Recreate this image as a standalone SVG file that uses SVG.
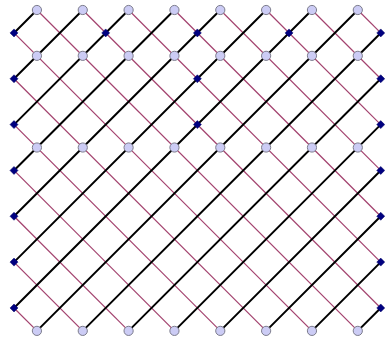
<svg xmlns="http://www.w3.org/2000/svg" xmlns:xlink="http://www.w3.org/1999/xlink" width="385" height="338" viewBox="0 0 385 338">
<style>
.bk{stroke:#000;stroke-width:2;stroke-linecap:round;fill:none}
.mr{stroke:#a3426e;stroke-width:1.2;fill:none}
.c{fill:#ccccf5;stroke:#7c7c8c;stroke-width:1}
.d{fill:#000080;stroke:#000060;stroke-width:0.5}
</style>
<defs>
<circle id="cir" class="c" r="4.6"/>
<polygon id="dia" class="d" points="0,-4 4,0 0,4 -4,0"/>
</defs>
<rect width="385" height="338" fill="#fff"/>
<g id="connectors">
<g id="maroon">
<line class="mr" x1="14" y1="307.96" x2="36.92" y2="330.88"/>
<line class="mr" x1="14" y1="262.12" x2="82.76" y2="330.88"/>
<line class="mr" x1="14" y1="216.28" x2="128.6" y2="330.88"/>
<line class="mr" x1="14" y1="170.44" x2="174.44" y2="330.88"/>
<line class="mr" x1="14" y1="124.6" x2="220.28" y2="330.88"/>
<line class="mr" x1="14" y1="78.76" x2="266.12" y2="330.88"/>
<line class="mr" x1="14" y1="32.92" x2="311.96" y2="330.88"/>
<line class="mr" x1="36.92" y1="10" x2="357.8" y2="330.88"/>
<line class="mr" x1="82.76" y1="10" x2="380.72" y2="307.96"/>
<line class="mr" x1="128.6" y1="10" x2="380.72" y2="262.12"/>
<line class="mr" x1="174.44" y1="10" x2="380.72" y2="216.28"/>
<line class="mr" x1="220.28" y1="10" x2="380.72" y2="170.44"/>
<line class="mr" x1="266.12" y1="10" x2="380.72" y2="124.6"/>
<line class="mr" x1="311.96" y1="10" x2="380.72" y2="78.76"/>
<line class="mr" x1="357.8" y1="10" x2="380.72" y2="32.92"/>
</g>
<g id="black">
<line class="bk" x1="14" y1="32.92" x2="36.92" y2="10"/>
<line class="bk" x1="14" y1="78.76" x2="82.76" y2="10"/>
<line class="bk" x1="14" y1="124.6" x2="128.6" y2="10"/>
<line class="bk" x1="14" y1="170.44" x2="174.44" y2="10"/>
<line class="bk" x1="14" y1="216.28" x2="220.28" y2="10"/>
<line class="bk" x1="14" y1="262.12" x2="266.12" y2="10"/>
<line class="bk" x1="14" y1="307.96" x2="311.96" y2="10"/>
<line class="bk" x1="36.92" y1="330.88" x2="357.8" y2="10"/>
<line class="bk" x1="82.76" y1="330.88" x2="380.72" y2="32.92"/>
<line class="bk" x1="128.6" y1="330.88" x2="380.72" y2="78.76"/>
<line class="bk" x1="174.44" y1="330.88" x2="380.72" y2="124.6"/>
<line class="bk" x1="220.28" y1="330.88" x2="380.72" y2="170.44"/>
<line class="bk" x1="266.12" y1="330.88" x2="380.72" y2="216.28"/>
<line class="bk" x1="311.96" y1="330.88" x2="380.72" y2="262.12"/>
<line class="bk" x1="357.8" y1="330.88" x2="380.72" y2="307.96"/>
</g>
</g>
<g id="nodes">
<g id="c1-0"><use xlink:href="#cir" x="36.92" y="10"/></g>
<g id="c3-0"><use xlink:href="#cir" x="82.76" y="10"/></g>
<g id="c5-0"><use xlink:href="#cir" x="128.6" y="10"/></g>
<g id="c7-0"><use xlink:href="#cir" x="174.44" y="10"/></g>
<g id="c9-0"><use xlink:href="#cir" x="220.28" y="10"/></g>
<g id="c11-0"><use xlink:href="#cir" x="266.12" y="10"/></g>
<g id="c13-0"><use xlink:href="#cir" x="311.96" y="10"/></g>
<g id="c15-0"><use xlink:href="#cir" x="357.8" y="10"/></g>
<g id="c1-2"><use xlink:href="#cir" x="36.92" y="55.84"/></g>
<g id="c3-2"><use xlink:href="#cir" x="82.76" y="55.84"/></g>
<g id="c5-2"><use xlink:href="#cir" x="128.6" y="55.84"/></g>
<g id="c7-2"><use xlink:href="#cir" x="174.44" y="55.84"/></g>
<g id="c9-2"><use xlink:href="#cir" x="220.28" y="55.84"/></g>
<g id="c11-2"><use xlink:href="#cir" x="266.12" y="55.84"/></g>
<g id="c13-2"><use xlink:href="#cir" x="311.96" y="55.84"/></g>
<g id="c15-2"><use xlink:href="#cir" x="357.8" y="55.84"/></g>
<g id="c1-6"><use xlink:href="#cir" x="36.92" y="147.52"/></g>
<g id="c3-6"><use xlink:href="#cir" x="82.76" y="147.52"/></g>
<g id="c5-6"><use xlink:href="#cir" x="128.6" y="147.52"/></g>
<g id="c7-6"><use xlink:href="#cir" x="174.44" y="147.52"/></g>
<g id="c9-6"><use xlink:href="#cir" x="220.28" y="147.52"/></g>
<g id="c11-6"><use xlink:href="#cir" x="266.12" y="147.52"/></g>
<g id="c13-6"><use xlink:href="#cir" x="311.96" y="147.52"/></g>
<g id="c15-6"><use xlink:href="#cir" x="357.8" y="147.52"/></g>
<g id="c1-14"><use xlink:href="#cir" x="36.92" y="330.88"/></g>
<g id="c3-14"><use xlink:href="#cir" x="82.76" y="330.88"/></g>
<g id="c5-14"><use xlink:href="#cir" x="128.6" y="330.88"/></g>
<g id="c7-14"><use xlink:href="#cir" x="174.44" y="330.88"/></g>
<g id="c9-14"><use xlink:href="#cir" x="220.28" y="330.88"/></g>
<g id="c11-14"><use xlink:href="#cir" x="266.12" y="330.88"/></g>
<g id="c13-14"><use xlink:href="#cir" x="311.96" y="330.88"/></g>
<g id="c15-14"><use xlink:href="#cir" x="357.8" y="330.88"/></g>
<g id="dL1"><use xlink:href="#dia" x="14" y="32.92"/></g>
<g id="dL3"><use xlink:href="#dia" x="14" y="78.76"/></g>
<g id="dL5"><use xlink:href="#dia" x="14" y="124.6"/></g>
<g id="dL7"><use xlink:href="#dia" x="14" y="170.44"/></g>
<g id="dL9"><use xlink:href="#dia" x="14" y="216.28"/></g>
<g id="dL11"><use xlink:href="#dia" x="14" y="262.12"/></g>
<g id="dL13"><use xlink:href="#dia" x="14" y="307.96"/></g>
<g id="dR1"><use xlink:href="#dia" x="380.72" y="32.92"/></g>
<g id="dR3"><use xlink:href="#dia" x="380.72" y="78.76"/></g>
<g id="dR5"><use xlink:href="#dia" x="380.72" y="124.6"/></g>
<g id="dR7"><use xlink:href="#dia" x="380.72" y="170.44"/></g>
<g id="dR9"><use xlink:href="#dia" x="380.72" y="216.28"/></g>
<g id="dR11"><use xlink:href="#dia" x="380.72" y="262.12"/></g>
<g id="dR13"><use xlink:href="#dia" x="380.72" y="307.96"/></g>
<g id="d4-1"><use xlink:href="#dia" x="105.68" y="32.92"/></g>
<g id="d8-1"><use xlink:href="#dia" x="197.36" y="32.92"/></g>
<g id="d12-1"><use xlink:href="#dia" x="289.04" y="32.92"/></g>
<g id="d8-3"><use xlink:href="#dia" x="197.36" y="78.76"/></g>
<g id="d8-5"><use xlink:href="#dia" x="197.36" y="124.6"/></g>
</g>
</svg>
